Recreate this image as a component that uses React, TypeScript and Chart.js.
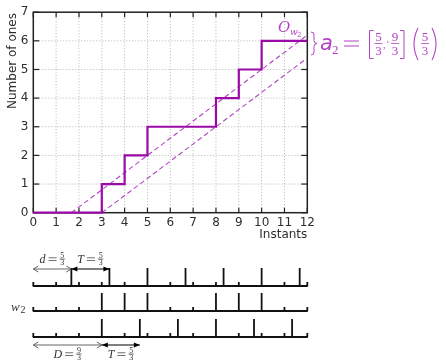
import React, { useEffect, useRef } from "react";
import { Chart, registerables } from "chart.js";

Chart.register(...registerables);

// ---- data ----
const stepInstants = [0, 3, 4, 5, 8, 9, 10, 12];
const stepOnes = [0, 1, 2, 3, 4, 5, 6, 6];
const upperBoundX = [5 / 3, 12];
const upperBoundY = [0, 6.2];
const lowerBoundX = [3, 12];
const lowerBoundY = [0, 5.4];
const xTickValues = [0, 1, 2, 3, 4, 5, 6, 7, 8, 9, 10, 11, 12];
const yTickValues = [0, 1, 2, 3, 4, 5, 6, 7];
const timelineInstants = [0, 1, 2, 3, 4, 5, 6, 7, 8, 9, 10, 11, 12];
const row1Ones = [5 / 3, 10 / 3, 5, 20 / 3, 25 / 3, 10, 35 / 3];
const row2Ones = [3, 4, 5, 8, 9, 10];
const row3Ones = [3, 14 / 3, 19 / 3, 8, 29 / 3, 34 / 3];
const row1OpenArrow = [0, 5 / 3];
const row1SolidArrow = [5 / 3, 10 / 3];
const row3OpenArrow = [0, 3];
const row3SolidArrow = [3, 14 / 3];
const xTitle = "Instants";
const yTitle = "Number of ones";

const MAGENTA = "#9a0aa8";
const MAGENTA_LIGHT = "#b342c4";
const TEXT = "#2e2e2e";
const SANS = "'DejaVu Sans'";
const SERIF = "'Liberation Serif'";

function line(ctx: CanvasRenderingContext2D, x0: number, y0: number, x1: number, y1: number) {
  ctx.beginPath();
  ctx.moveTo(x0, y0);
  ctx.lineTo(x1, y1);
  ctx.stroke();
}

function openArrow(ctx: CanvasRenderingContext2D, x0: number, x1: number, y: number) {
  ctx.save();
  ctx.strokeStyle = "#555";
  ctx.lineWidth = 0.9;
  line(ctx, x0, y, x1, y);
  ctx.beginPath();
  ctx.moveTo(x0 + 5, y - 3);
  ctx.lineTo(x0, y);
  ctx.lineTo(x0 + 5, y + 3);
  ctx.moveTo(x1 - 5, y - 3);
  ctx.lineTo(x1, y);
  ctx.lineTo(x1 - 5, y + 3);
  ctx.stroke();
  ctx.restore();
}

function solidArrow(ctx: CanvasRenderingContext2D, x0: number, x1: number, y: number) {
  ctx.save();
  ctx.strokeStyle = "#000";
  ctx.fillStyle = "#000";
  ctx.lineWidth = 1.2;
  line(ctx, x0, y, x1, y);
  ctx.beginPath();
  ctx.moveTo(x0, y);
  ctx.lineTo(x0 + 6, y - 2.6);
  ctx.lineTo(x0 + 6, y + 2.6);
  ctx.closePath();
  ctx.fill();
  ctx.beginPath();
  ctx.moveTo(x1, y);
  ctx.lineTo(x1 - 6, y - 2.6);
  ctx.lineTo(x1 - 6, y + 2.6);
  ctx.closePath();
  ctx.fill();
  ctx.restore();
}

function mathLabel(ctx: CanvasRenderingContext2D, v: string, num: string, den: string, cx: number, cy: number) {
  ctx.save();
  const fv = `italic 12px ${SERIF}`;
  const ff = `8px ${SERIF}`;
  ctx.font = fv;
  const wv = ctx.measureText(v).width;
  const weq = 8;
  const gap = 3;
  ctx.font = ff;
  const wf = ctx.measureText(num).width + 1.5;
  const total = wv + gap + weq + gap + wf;
  let xx = cx - total / 2;
  ctx.fillStyle = "#333";
  ctx.textAlign = "left";
  ctx.textBaseline = "alphabetic";
  ctx.font = fv;
  ctx.fillText(v, xx, cy + 4);
  xx += wv + gap;
  ctx.fillRect(xx, cy - 1.5, weq, 0.7);
  ctx.fillRect(xx, cy + 1.2, weq, 0.7);
  xx += weq + gap;
  ctx.font = ff;
  ctx.textAlign = "center";
  ctx.fillText(num, xx + wf / 2, cy - 1);
  ctx.fillText(den, xx + wf / 2, cy + 6.3);
  ctx.fillRect(xx, cy - 0.3, wf, 0.6);
  ctx.restore();
}

function bigFrac(ctx: CanvasRenderingContext2D, num: string, den: string, cx: number, axis: number) {
  ctx.font = `13px ${SERIF}`;
  ctx.textAlign = "center";
  ctx.textBaseline = "alphabetic";
  ctx.fillText(num, cx, axis - 2.5);
  ctx.fillText(den, cx, axis + 11);
  ctx.fillRect(cx - 4, axis - 0.4, 8, 0.8);
}

const extrasPlugin = {
  id: "extras",
  beforeDatasetsDraw(chart: any) {
    const { ctx, chartArea: a } = chart;
    const x = chart.scales.x;
    const y = chart.scales.y;
    ctx.save();
    // dotted grid
    ctx.strokeStyle = "#b5b5b5";
    ctx.lineWidth = 1;
    ctx.setLineDash([1, 2]);
    xTickValues.forEach((v) => {
      if (v <= x.min || v >= x.max) return;
      const px = x.getPixelForValue(v);
      line(ctx, px, a.top, px, a.bottom);
    });
    yTickValues.forEach((v) => {
      if (v <= y.min || v >= y.max) return;
      const py = y.getPixelForValue(v);
      line(ctx, a.left, py, a.right, py);
    });
    ctx.setLineDash([]);
    // frame
    ctx.strokeStyle = "#222";
    ctx.lineWidth = 1.5;
    ctx.strokeRect(a.left, a.top, a.right - a.left, a.bottom - a.top);
    // inward ticks
    ctx.lineWidth = 1.2;
    xTickValues.forEach((v) => {
      const px = x.getPixelForValue(v);
      line(ctx, px, a.bottom, px, a.bottom - 5);
      line(ctx, px, a.top, px, a.top + 5);
    });
    yTickValues.forEach((v) => {
      const py = y.getPixelForValue(v);
      line(ctx, a.left, py, a.left + 6, py);
      line(ctx, a.right, py, a.right - 6, py);
    });
    ctx.restore();
  },
  afterDraw(chart: any) {
    const { ctx, chartArea: a } = chart;
    const x = chart.scales.x;
    ctx.save();
    // axis titles
    ctx.fillStyle = TEXT;
    ctx.font = `12px ${SANS}`;
    ctx.textAlign = "right";
    ctx.textBaseline = "middle";
    ctx.fillText(xTitle, a.right, a.bottom + 22);
    ctx.save();
    ctx.translate(13, 61);
    ctx.rotate(-Math.PI / 2);
    ctx.textAlign = "center";
    ctx.fillText(yTitle, 0, 0);
    ctx.restore();

    // O_{w2} label
    ctx.fillStyle = MAGENTA_LIGHT;
    ctx.textAlign = "left";
    ctx.textBaseline = "alphabetic";
    ctx.font = `italic 15px 'DejaVu Serif'`;
    ctx.fillText("O", 278, 32);
    ctx.font = `italic 9px 'DejaVu Serif'`;
    ctx.fillText("w", 290, 35);
    ctx.font = `7px 'DejaVu Serif'`;
    ctx.fillText("2", 297, 37);

    // brace
    ctx.strokeStyle = MAGENTA_LIGHT;
    ctx.lineWidth = 1;
    ctx.beginPath();
    ctx.moveTo(311, 32);
    ctx.quadraticCurveTo(314, 32, 314, 35);
    ctx.lineTo(314, 40.5);
    ctx.quadraticCurveTo(314, 43.5, 317, 43.5);
    ctx.quadraticCurveTo(314, 43.5, 314, 46.5);
    ctx.lineTo(314, 52);
    ctx.quadraticCurveTo(314, 55, 311, 55);
    ctx.stroke();

    // a2 = [5/3 ; 9/3] (5/3)
    const axis = 43.5;
    ctx.font = `oblique 21px ${SANS}`;
    ctx.fillText("a", 320, 50);
    ctx.font = `13px ${SERIF}`;
    ctx.fillText("2", 332, 54);
    ctx.fillRect(344, axis - 3, 15, 1);
    ctx.fillRect(344, axis + 2, 15, 1);
    ctx.lineWidth = 1;
    ctx.beginPath();
    ctx.moveTo(373.5, 30.5);
    ctx.lineTo(369.5, 30.5);
    ctx.lineTo(369.5, 58.5);
    ctx.lineTo(373.5, 58.5);
    ctx.stroke();
    bigFrac(ctx, "5", "3", 378.5, axis);
    ctx.font = `10px ${SERIF}`;
    ctx.textAlign = "left";
    ctx.fillText(",", 383, axis + 4);
    ctx.fillRect(387, axis - 2, 1.2, 1.2);
    bigFrac(ctx, "9", "3", 395, axis);
    ctx.beginPath();
    ctx.moveTo(400, 30.5);
    ctx.lineTo(404, 30.5);
    ctx.lineTo(404, 58.5);
    ctx.lineTo(400, 58.5);
    ctx.stroke();
    ctx.lineWidth = 1.1;
    ctx.beginPath();
    ctx.moveTo(418, 28);
    ctx.quadraticCurveTo(410, 44, 418, 60);
    ctx.stroke();
    bigFrac(ctx, "5", "3", 425, axis);
    ctx.beginPath();
    ctx.moveTo(432, 28);
    ctx.quadraticCurveTo(440, 44, 432, 60);
    ctx.stroke();

    // timelines
    const rows = [
      { ones: row1Ones, base: 286 },
      { ones: row2Ones, base: 311 },
      { ones: row3Ones, base: 337 },
    ];
    ctx.strokeStyle = "#111";
    ctx.lineWidth = 1.8;
    const x0 = x.getPixelForValue(0);
    const x12 = x.getPixelForValue(12);
    rows.forEach((r) => {
      line(ctx, x0 - 0.5, r.base, x12 + 0.5, r.base);
      timelineInstants.forEach((t) => {
        if (r.ones.some((o) => Math.abs(o - t) < 1e-6)) return;
        const px = x.getPixelForValue(t);
        line(ctx, px, r.base, px, r.base - 4);
      });
      r.ones.forEach((t) => {
        const px = x.getPixelForValue(t);
        line(ctx, px, r.base, px, r.base - 18);
      });
    });

    // w2 label
    ctx.fillStyle = "#333";
    ctx.textAlign = "left";
    ctx.font = `italic 13px ${SERIF}`;
    ctx.fillText("w", 11, 311);
    ctx.font = `10px ${SERIF}`;
    ctx.fillText("2", 20.5, 312.5);

    // arrows and labels
    const p = (v: number) => x.getPixelForValue(v);
    openArrow(ctx, p(row1OpenArrow[0]), p(row1OpenArrow[1]), 269);
    solidArrow(ctx, p(row1SolidArrow[0]), p(row1SolidArrow[1]), 269);
    openArrow(ctx, p(row3OpenArrow[0]), p(row3OpenArrow[1]), 345);
    solidArrow(ctx, p(row3SolidArrow[0]), p(row3SolidArrow[1]), 345);
    mathLabel(ctx, "d", "5", "3", (p(row1OpenArrow[0]) + p(row1OpenArrow[1])) / 2, 259);
    mathLabel(ctx, "T", "5", "3", (p(row1SolidArrow[0]) + p(row1SolidArrow[1])) / 2, 259);
    mathLabel(ctx, "D", "9", "3", (p(row3OpenArrow[0]) + p(row3OpenArrow[1])) / 2, 354);
    mathLabel(ctx, "T", "5", "3", (p(row3SolidArrow[0]) + p(row3SolidArrow[1])) / 2, 354);
    ctx.restore();
  },
};

export default function App() {
  const ref = useRef<HTMLCanvasElement>(null);
  useEffect(() => {
    const canvas = ref.current!;
    const tickFont = { family: "DejaVu Sans", size: 12 };
    const chart = new Chart(canvas, {
      type: "line",
      data: {
        datasets: [
          {
            label: "w2",
            data: stepInstants.map((v, i) => ({ x: v, y: stepOnes[i] })),
            stepped: "before",
            borderColor: MAGENTA,
            borderWidth: 2.2,
            pointRadius: 0,
            fill: false,
            clip: false,
            order: 0,
          },
          {
            label: "upper",
            data: upperBoundX.map((v, i) => ({ x: v, y: upperBoundY[i] })),
            borderColor: MAGENTA_LIGHT,
            borderWidth: 1.1,
            borderDash: [5, 3],
            pointRadius: 0,
            fill: false,
            order: 1,
          },
          {
            label: "lower",
            data: lowerBoundX.map((v, i) => ({ x: v, y: lowerBoundY[i] })),
            borderColor: MAGENTA_LIGHT,
            borderWidth: 1.1,
            borderDash: [5, 3],
            pointRadius: 0,
            fill: false,
            order: 2,
          },
        ],
      } as any,
      options: {
        responsive: false,
        animation: false,
        devicePixelRatio: 1,
        events: [],
        layout: { padding: { left: 0, right: 138.7, top: 10, bottom: 0 } },
        plugins: {
          legend: { display: false },
          tooltip: { enabled: false },
          title: { display: false },
        },
        scales: {
          x: {
            type: "linear",
            min: 0,
            max: 12,
            grid: { display: false, drawTicks: false },
            border: { display: false },
            ticks: {
              stepSize: 1,
              padding: 3,
              font: tickFont,
              color: TEXT,
              maxRotation: 0,
              autoSkip: false,
            },
            afterBuildTicks: (s: any) => {
              s.ticks = xTickValues.map((v) => ({ value: v }));
            },
            afterFit: (s: any) => {
              s.height = 149.3;
            },
          },
          y: {
            type: "linear",
            min: 0,
            max: 7,
            grid: { display: false, drawTicks: false },
            border: { display: false },
            ticks: { stepSize: 1, padding: 5, font: tickFont, color: TEXT },
            afterBuildTicks: (s: any) => {
              s.ticks = yTickValues.map((v) => ({ value: v }));
            },
            afterFit: (s: any) => {
              s.width = 33.3;
            },
          },
        },
      } as any,
      plugins: [extrasPlugin],
    });
    return () => chart.destroy();
  }, []);
  return (
    <div style={{ position: "absolute", left: 0, top: 0, width: 446, height: 362, background: "#fff" }}>
      <canvas ref={ref} width={446} height={362} style={{ display: "block", width: 446, height: 362 }} />
    </div>
  );
}
